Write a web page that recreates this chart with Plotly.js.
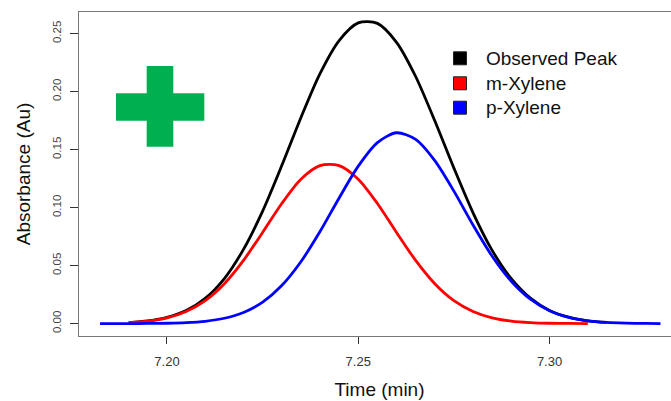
<!DOCTYPE html>
<html>
<head>
<meta charset="utf-8">
<script src="https://cdn.plot.ly/plotly-3.0.1.min.js"></script>
<style>
html,body{margin:0;padding:0;overflow:hidden;background:#fff;}
#chart{width:680px;height:401px;}
</style>
</head>
<body>
<div id="chart"></div>
<script>
// Time (min) sample points and absorbance (Au)
const timeObserved = [7.190,7.195,7.200,7.205,7.210,7.215,7.220,7.225,7.230,7.235,7.240,7.245,7.250,7.255,7.260,7.265,7.270,7.275,7.280,7.285,7.290,7.295,7.300,7.305,7.310,7.315];
const observedPeak = [0.0009,0.0023,0.0053,0.0112,0.0217,0.0388,0.0640,0.0970,0.1362,0.1775,0.2155,0.2440,0.2592,0.2588,0.2425,0.2130,0.1748,0.1340,0.0955,0.0631,0.0387,0.0219,0.0113,0.0055,0.0024,0.0010];

const timeM = [7.190,7.195,7.200,7.205,7.210,7.215,7.220,7.225,7.230,7.235,7.240,7.245,7.250,7.255,7.260,7.265,7.270,7.275,7.280,7.285,7.290,7.295,7.300,7.305,7.310];
const mXylene = [0.0009,0.0022,0.0050,0.0105,0.0198,0.0344,0.0545,0.0786,0.1035,0.1245,0.1362,0.1362,0.1245,0.1035,0.0786,0.0545,0.0344,0.0198,0.0105,0.0050,0.0022,0.0009,0.0003,0.0001,0.0000];

const timeP = [7.1825,7.185,7.190,7.195,7.200,7.205,7.210,7.215,7.220,7.225,7.230,7.235,7.240,7.245,7.250,7.255,7.260,7.265,7.270,7.275,7.280,7.285,7.290,7.295,7.300,7.305,7.310,7.315,7.320,7.325,7.329];
const pXylene = [0.0000,0.0000,0.0000,0.0001,0.0003,0.0008,0.0020,0.0046,0.0096,0.0185,0.0328,0.0533,0.0794,0.1083,0.1357,0.1560,0.1645,0.1588,0.1405,0.1142,0.0850,0.0581,0.0365,0.0210,0.0111,0.0054,0.0024,0.0010,0.0004,0.0001,0.0000];

const seriesNames = ["Observed Peak","m-Xylene","p-Xylene"];
const seriesColors = ["#000000","#ff0000","#0000ff"];
const xTicks = [7.20,7.25,7.30];
const yTicks = [0.00,0.05,0.10,0.15,0.20,0.25];

const FONT = "Liberation Sans, Arial, sans-serif";
const lineW = 2.8;

const seriesX = [timeObserved, timeM, timeP];
const seriesY = [observedPeak, mXylene, pXylene];
const traces = seriesNames.map((n,i)=>({
  x: seriesX[i], y: seriesY[i], name:n, mode:"lines",
  line:{color:seriesColors[i], width:lineW, shape:"spline", smoothing:0.8},
  showlegend:false, hoverinfo:"skip"
}));

// legend (drawn as layout decorations, square keys like the original)
const plotL = 79, plotR = 680, plotT = 12, plotB = 336;
const px2x = p => (p - plotL) / (plotR - plotL);
const px2y = p => (plotB - p) / (plotB - plotT);
const legendRowsPx = [58.3, 83.3, 107.7];
const keyHalf = 6.5;
const legendShapes = [], legendAnn = [];
seriesNames.forEach((n,i)=>{
  const cy = legendRowsPx[i];
  legendShapes.push({type:"rect", xref:"paper", yref:"paper",
    x0:px2x(460-keyHalf), x1:px2x(460+keyHalf), y0:px2y(cy+keyHalf), y1:px2y(cy-keyHalf),
    fillcolor:seriesColors[i], line:{color:"#222", width:1}});
  legendAnn.push({xref:"paper", yref:"paper", x:px2x(484), y:px2y(cy), xanchor:"left", yanchor:"middle",
    text:n, showarrow:false, font:{family:FONT, size:19, color:"#111"}});
});

const greenFill = "#00b050";
const layout = {
  width: 680, height: 401,
  margin: {l:plotL, r:0, t:plotT, b:401-plotB},
  paper_bgcolor:"#ffffff", plot_bgcolor:"#ffffff",
  font:{family:FONT, color:"#222"},
  showlegend:false,
  xaxis:{
    range:[7.1770, 7.3341], tickvals:xTicks, tickformat:".2f",
    showgrid:false, zeroline:false, showline:true, mirror:true, linecolor:"#777", linewidth:1.3,
    ticks:"outside", ticklen:7, tickcolor:"#333", tickwidth:1,
    tickfont:{family:FONT, size:13, color:"#333"}, ticklabelstandoff:6,
    title:{text:"Time (min)", font:{family:FONT, size:19, color:"#111"}, standoff:14}
  },
  yaxis:{
    range:[-0.0107, 0.2686], tickvals:yTicks, tickformat:".2f", tickangle:-90,
    showgrid:false, zeroline:false, showline:true, mirror:true, linecolor:"#777", linewidth:1.3,
    ticks:"outside", ticklen:8, tickcolor:"#333", tickwidth:1,
    tickfont:{family:FONT, size:11.5, color:"#444"}, ticklabelstandoff:4,
    title:{text:"Absorbance (Au)", font:{family:FONT, size:19, color:"#111"}, standoff:15}
  },
  shapes:[
    {type:"rect", xref:"paper", yref:"paper", x0:px2x(116), x1:px2x(204.3), y0:px2y(120.7), y1:px2y(93.3), fillcolor:greenFill, line:{width:0}},
    {type:"rect", xref:"paper", yref:"paper", x0:px2x(146.7), x1:px2x(173.3), y0:px2y(146.7), y1:px2y(66), fillcolor:greenFill, line:{width:0}}
  ].concat(legendShapes),
  annotations: legendAnn
};

Plotly.newPlot("chart", traces, layout, {displayModeBar:false, staticPlot:true});
</script>
</body>
</html>
